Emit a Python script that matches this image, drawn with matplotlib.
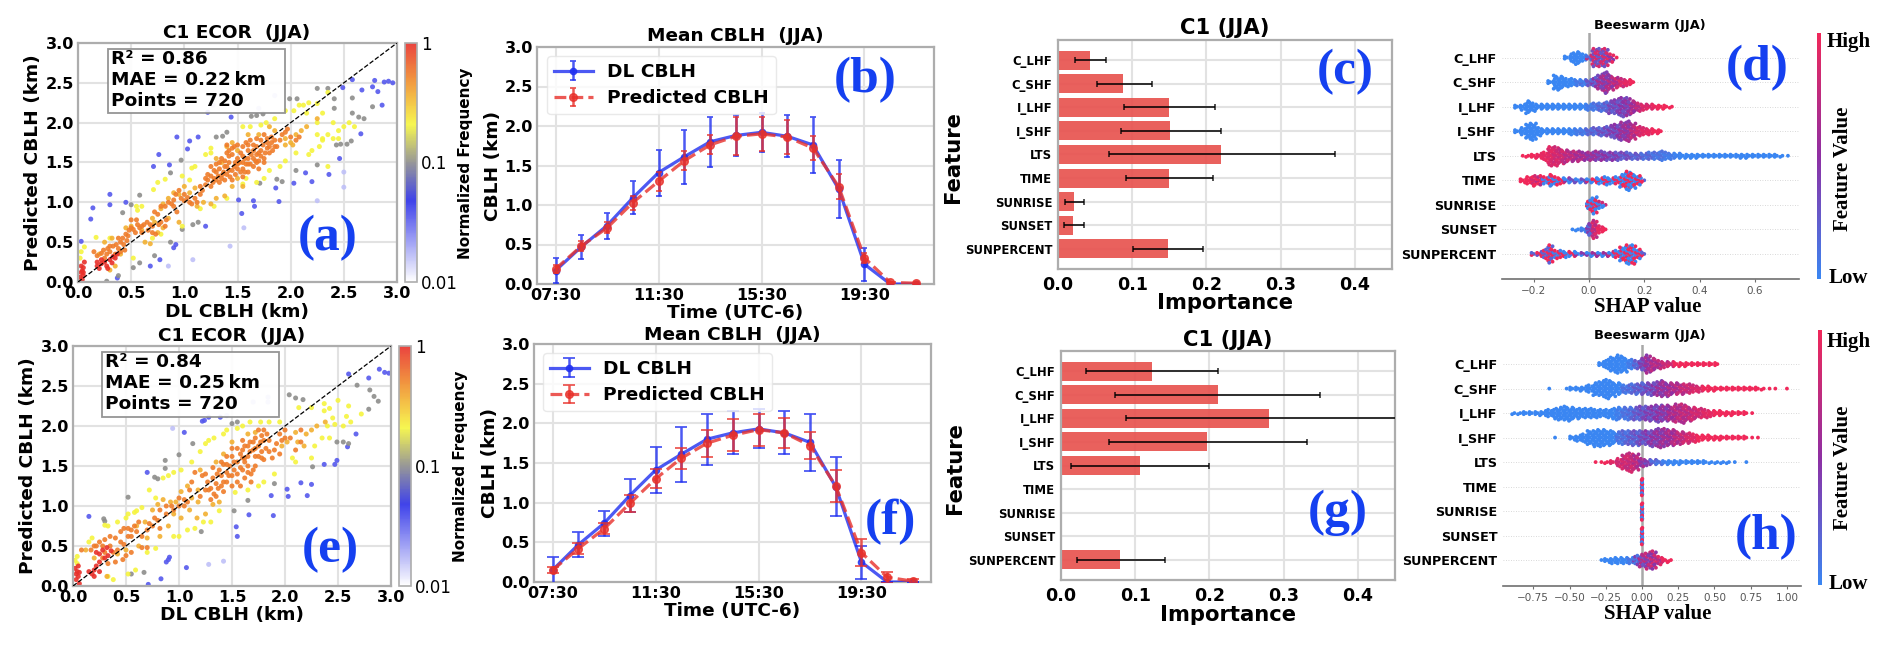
# cblh_panels.py
# Eight panel CBLH figure: scatter, diurnal means, feature importance, SHAP beeswarm

import numpy as np
import matplotlib
matplotlib.use("Agg")
import matplotlib.pyplot as plt
from matplotlib import cm, colors, patches, transforms

W, H = 1892, 646

features = ['C_LHF', 'C_SHF', 'I_LHF', 'I_SHF', 'LTS', 'TIME', 'SUNRISE', 'SUNSET', 'SUNPERCENT']
hours = ['07:30', '11:30', '15:30', '19:30']

# scatter (a), grouped by normalized frequency
a_faint = [(1.43, .45), (1.56, .68), (1.08, .28), (.85, .20), (2.25, 1.02), (2.5, 1.19), (1.85, 2.34), (1.27, 2.22), (1.7, 2.18), (2.5, 1.38)]
a_blue = [(.12, .79), (.14, .93), (.30, .97), (.30, 1.10), (.45, 1.0), (.71, 1.45), (.76, 1.60), (.86, 1.47), (.93, 1.82), (1.03, 1.67),
          (1.05, 1.77), (1.13, 1.82), (1.44, 2.07), (1.22, 2.13), (1.2, .70), (1.51, 1.03), (1.65, 1.02), (1.66, .95), (1.54, .86), (1.89, 1.01),
          (1.86, 1.18), (2.03, 1.24), (2.2, 1.26), (2.14, 1.37), (2.36, 1.35), (2.46, 1.55), (2.66, 1.86), (2.58, 2.54), (2.49, 2.44),
          (2.67, 2.41), (2.79, 2.53), (2.77, 2.45), (2.82, 2.39), (2.86, 2.22), (2.88, 2.51), (2.92, 2.52), (2.96, 2.50), (.77, .28), (.68, .20),
          (.90, .43), (.92, .47), (.03, .51), (.37, .05)]
a_grey = [(.50, .97), (.58, 1.09), (.42, .87), (.87, 1.37), (.97, 1.53), (1.30, 1.82), (1.36, 1.83), (1.40, 1.88), (1.63, 2.08), (1.68, 2.09),
          (1.74, 2.11), (1.99, 2.30), (2.06, 2.30), (2.25, 2.43), (2.35, 2.43), (2.41, 2.30), (2.58, 2.31), (2.77, 2.20), (2.41, 2.18), (2.58, 2.12),
          (2.64, 2.07), (2.69, 2.05), (2.43, 1.72), (2.47, 1.73), (2.53, 1.73), (2.57, 1.77), (2.25, 1.47), (2.05, 1.40), (1.92, 1.26), (1.87, 1.29),
          (1.71, 1.24), (.87, .50), (.72, .33), (.52, .18), (.58, .24), (.38, .08), (.27, .01), (.98, .66), (1.08, .72), (1.13, .75)]
a_yellow = [(.06, .44), (.03, .38), (.02, .30), (.17, .56), (.30, .55), (.55, .95), (.60, .95), (.56, .90), (.71, 1.16), (.75, 1.25),
            (.82, 1.29), (.98, 1.33), (1.05, 1.28), (1.07, 1.43), (1.10, 1.45), (1.2, 1.6), (1.25, 1.62), (1.25, 1.68), (1.55, 1.95), (1.62, 1.95),
            (1.72, 1.97), (1.77, 2.0), (1.85, 2.05), (1.95, 2.15), (2.03, 2.15), (2.08, 2.22), (2.12, 2.22), (2.17, 2.25), (2.25, 2.24), (2.35, 2.38),
            (2.3, 2.12), (2.15, 2.12), (2.25, 2.0), (2.4, 2.0), (.52, .30), (.70, .55), (.78, .60), (.98, .70), (1.15, .92), (1.28, .95),
            (1.4, 1.05), (1.55, 1.23), (1.58, 1.3), (1.68, 1.25), (1.75, 1.3), (1.8, 1.4), (1.9, 1.45), (1.95, 1.52), (2.05, 1.62), (2.17, 1.6),
            (2.2, 1.65), (2.27, 1.7), (2.3, 1.8), (2.35, 1.85), (2.45, 1.8), (2.5, 1.95), (2.55, 2.0), (2.6, 1.95), (2.35, 1.45), (2.45, 1.9),
            (2.25, 1.85), (2.3, 1.78), (2.4, 1.8)]
a_gold = [(.2, .35), (.25, .5), (.32, .55), (.45, .68), (.5, .7), (.6, .65), (.63, .5), (.68, .48), (.72, .75), (.78, .92),
          (.8, .98), (.85, 1.05), (.9, 1.12), (.95, 1.1), (1.0, 1.2), (1.05, 1.12), (1.1, 1.18), (1.12, .95), (1.18, 1.0), (1.25, .98),
          (1.3, 1.05), (1.38, 1.08), (1.45, 1.2), (1.5, 1.3), (1.55, 1.2), (1.3, 1.55), (1.35, 1.5), (1.4, 1.7), (1.45, 1.75), (1.5, 1.65),
          (1.6, 1.85), (1.7, 1.85), (1.8, 1.95), (1.85, 1.9), (1.95, 1.8), (2.0, 1.75), (2.05, 1.85), (2.1, 1.9), (2.02, 1.72), (1.95, 1.72),
          (2.15, 1.95), (2.25, 2.05), (.35, .2), (.4, .35), (.3, .15), (.95, .75), (.85, .8), (.75, .62), (.8, .68), (.7, .8)]
a_orange = [(.15, .38), (.18, .33), (.22, .36), (.25, .30), (.28, .42), (.3, .38), (.33, .45), (.36, .47), (.38, .42), (.4, .5),
            (.43, .47), (.46, .52), (.45, .6), (.48, .65), (.5, .68), (.52, .66), (.54, .62), (.56, .72), (.6, .7), (.62, .72),
            (.66, .65), (.7, .7), (.7, .62), (.73, .6), (.76, .72), (.78, .75), (.82, .7), (.83, .78), (.75, .85), (.72, .88),
            (.78, .95), (.85, 1.0), (.88, .98), (.92, 1.1), (.97, 1.05), (1.0, 1.1), (1.03, 1.06), (1.07, .98), (1.1, 1.05), (1.15, 1.1),
            (1.17, 1.15), (1.2, 1.22), (1.22, 1.28), (1.25, 1.2), (1.28, 1.3), (1.3, 1.38), (1.33, 1.42), (1.36, 1.35), (1.38, 1.28), (1.33, 1.25),
            (1.4, 1.45), (1.42, 1.5), (1.45, 1.4), (1.48, 1.35), (1.5, 1.42), (1.52, 1.5), (1.55, 1.42), (1.58, 1.48), (1.6, 1.55), (1.62, 1.48),
            (1.65, 1.55), (1.68, 1.6), (1.7, 1.52), (1.72, 1.65), (1.75, 1.55), (1.78, 1.68), (1.8, 1.62), (1.55, 1.7), (1.58, 1.75), (1.62, 1.78),
            (1.65, 1.72), (1.68, 1.8), (1.72, 1.78), (1.75, 1.85), (1.78, 1.8), (1.82, 1.75), (1.85, 1.78), (1.45, 1.6), (1.42, 1.65), (1.47, 1.7),
            (1.4, 1.72), (1.3, 1.48), (1.35, 1.55), (1.25, 1.45), (1.5, 1.55), (1.55, 1.58), (1.6, 1.65), (1.65, 1.45), (1.7, 1.42), (1.6, 1.38),
            (1.55, 1.32), (1.45, 1.28), (1.38, 1.45), (1.9, 1.78), (1.92, 1.85), (1.87, 1.7),
            (1.25, 1.33), (1.27, 1.25), (1.3, 1.28), (1.32, 1.33), (1.35, 1.3), (1.37, 1.38), (1.4, 1.35), (1.42, 1.4), (1.43, 1.32), (1.47, 1.45),
            (1.5, 1.48), (1.53, 1.38), (1.55, 1.5), (1.57, 1.55), (1.6, 1.48), (1.63, 1.6), (1.65, 1.65), (1.67, 1.52), (1.68, 1.7), (1.7, 1.62),
            (1.72, 1.58), (1.74, 1.72), (1.76, 1.62), (1.78, 1.75), (1.8, 1.7), (1.82, 1.82), (1.83, 1.65), (1.85, 1.7), (1.42, 1.58), (1.45, 1.68),
            (1.4, 1.62), (1.38, 1.52), (1.33, 1.5), (1.28, 1.4), (1.22, 1.35), (1.2, 1.3), (1.15, 1.2), (1.12, 1.0), (1.05, 1.0), (1.0, 1.02),
            (.95, 1.15), (.9, 1.03), (.82, .95), (.9, .95), (.93, .88), (.68, .72), (.65, .75), (.6, .62), (.58, .68), (.55, .78),
            (.5, .78), (.47, .58), (.42, .55), (.38, .55), (.35, .35), (.3, .45), (.27, .35), (.24, .4), (.4, .38), (.44, .4),
            (1.95, 1.88), (2.0, 1.82), (2.05, 1.78), (2.08, 1.82), (1.97, 1.92), (1.5, 1.72), (1.53, 1.62), (1.6, 1.72), (1.75, 1.5), (1.68, 1.5),
            (1.57, 1.38), (1.48, 1.5)]
a_red = [(.03, .2), (.05, .18), (.04, .14), (.05, .08), (.04, .03), (.06, .25), (.03, .12), (.02, .06), (.05, .12), (.18, .2),
         (.2, .17), (.22, .23), (.25, .25), (.18, .25), (.27, .2), (.3, .28), (.33, .32), (.35, .3), (.37, .35), (.28, .17), (.22, .28), (.32, .24)]

# scatter (e)
e_faint = [(.94, 1.97), (1.70, 2.30), (1.84, 2.36), (1.84, 2.30), (1.42, .31), (1.28, .27), (1.45, 2.13)]
e_blue = [(.15, .87), (.70, 1.42), (1.05, 1.92), (1.22, 2.06), (1.24, 2.07), (1.28, 2.11), (1.39, 2.11), (.9, .33), (.91, .36), (.88, .30),
          (.71, .02), (.83, .09), (1.07, .23), (1.54, .74), (1.55, .62), (1.66, .89), (1.89, .88), (1.87, 1.13), (2.02, 1.21), (2.03, 1.12),
          (2.15, 1.29), (2.25, 1.27), (2.21, 1.13), (2.37, 1.52), (2.47, 1.52), (2.49, 1.57), (2.59, 1.74), (2.67, 1.90), (2.6, 2.65), (2.79, 2.60),
          (2.89, 2.71), (2.94, 2.67), (2.98, 2.66)]
e_grey = [(.52, 1.11), (.29, .84), (.30, .81), (.77, 1.36), (.80, 1.34), (.87, 1.47), (.87, 1.57), (1.0, 1.64), (1.13, 1.78), (.67, .17),
          (1.21, .68), (1.65, 1.07), (1.52, .94), (1.5, 2.03), (1.55, 2.05), (2.04, 2.39), (2.10, 2.35), (2.17, 2.33), (2.68, 2.51), (2.80, 2.45),
          (2.84, 2.37), (2.88, 2.31), (2.79, 2.21), (2.49, 1.80), (2.55, 1.80), (2.60, 1.78), (2.26, 1.49), (1.9, 1.28), (.55, .15)]
e_yellow = [(.04, .37), (.02, .32), (.04, .28), (.15, .55), (.18, .6), (.3, .76), (.33, .75), (.42, .8), (.5, .85), (.52, .9),
            (.58, .92), (.6, .94), (.65, .98), (.72, 1.2), (.78, 1.1), (.85, 1.35), (.9, 1.38), (.95, 1.42), (1.02, 1.45), (1.12, 1.55),
            (1.2, 1.68), (1.25, 1.78), (1.28, 1.82), (1.33, 1.85), (1.42, 1.9), (1.45, 1.95), (1.55, 1.97), (1.6, 2.0), (1.67, 2.05), (1.77, 2.05),
            (1.85, 2.05), (1.95, 2.05), (2.13, 2.23), (2.25, 2.23), (2.37, 2.28), (2.42, 2.22), (2.5, 2.32), (2.6, 2.25), (2.37, 2.19), (2.45, 2.1),
            (2.58, 2.12), (2.62, 2.05), (2.72, 2.15), (.38, .08), (.33, .12), (.52, .15), (.59, .2), (.7, .42), (.78, .47), (.95, .62),
            (1.0, .62), (1.08, .7), (1.15, .72), (1.23, .8), (1.3, .8), (1.38, .94), (1.53, 1.17), (1.65, 1.2), (1.75, 1.25), (1.8, 1.3),
            (1.9, 1.4), (2.07, 1.6), (2.1, 1.55), (2.25, 1.6), (2.28, 1.75), (2.35, 1.85), (2.42, 1.85), (2.47, 2.02), (2.55, 2.0), (2.4, 2.0)]
e_gold = [(.12, .45), (.2, .35), (.32, .12), (.42, .4), (.5, .45), (.6, .75), (.68, .8), (.75, .95), (.8, 1.02), (.85, 1.08),
          (.92, 1.05), (.97, 1.05), (1.02, 1.18), (1.08, 1.25), (1.12, 1.1), (1.18, 1.2), (1.2, 1.45), (1.18, 1.05), (1.17, .85), (1.25, .9),
          (1.32, 1.02), (1.38, 1.05), (1.35, 1.55), (1.42, 1.65), (1.5, 1.8), (1.65, 1.9), (1.72, 1.92), (1.97, 1.75), (2.02, 1.8), (2.12, 1.8),
          (2.18, 1.75), (2.2, 1.9), (2.3, 2.0), (2.38, 2.05), (2.1, 1.92), (2.25, 1.95), (.62, .5), (.7, .6), (.82, .62), (.9, .75),
          (1.02, .85), (.95, .9), (1.1, .95)]
e_orange = [(.08, .45), (.17, .45), (.25, .55), (.3, .58), (.35, .62), (.4, .6), (.45, .68), (.48, .72), (.52, .62), (.55, .7),
            (.6, .68), (.65, .62), (.7, .7), (.72, .78), (.77, .85), (.82, .72), (.65, .48), (.7, .48), (.5, .38), (.55, .42),
            (.4, .3), (.47, .33), (.42, .45), (.88, .9), (.93, 1.0), (1.0, 1.0), (1.05, 1.08), (1.12, 1.3), (1.15, 1.42), (1.22, 1.38),
            (1.27, 1.3), (1.3, 1.22), (1.32, 1.35), (1.33, 1.15), (1.36, 1.4), (1.38, 1.45), (1.4, 1.25), (1.42, 1.52), (1.45, 1.3), (1.48, 1.5),
            (1.5, 1.62), (1.5, 1.38), (1.55, 1.55), (1.58, 1.65), (1.6, 1.45), (1.62, 1.75), (1.62, 1.35), (1.65, 1.5), (1.67, 1.68), (1.68, 1.4),
            (1.7, 1.8), (1.72, 1.62), (1.75, 1.75), (1.78, 1.88), (1.78, 1.68), (1.8, 1.95), (1.82, 1.72), (1.85, 1.82), (1.88, 1.6), (1.9, 1.7),
            (1.95, 1.9), (2.0, 1.95), (2.05, 1.85), (1.72, 1.5), (1.68, 1.3), (1.6, 1.6), (1.55, 1.72), (1.52, 1.45), (1.45, 1.42), (1.35, 1.12),
            (1.42, 1.18), (1.58, 1.25),
            (1.25, 1.4), (1.28, 1.2), (1.3, 1.08), (1.35, 1.28), (1.37, 1.22), (1.4, 1.38), (1.42, 1.3), (1.45, 1.52), (1.47, 1.38), (1.5, 1.25),
            (1.52, 1.55), (1.55, 1.4), (1.55, 1.3), (1.58, 1.48), (1.6, 1.7), (1.62, 1.55), (1.65, 1.62), (1.65, 1.42), (1.67, 1.8), (1.7, 1.7),
            (1.7, 1.45), (1.72, 1.85), (1.75, 1.62), (1.77, 1.8), (1.8, 1.82), (1.8, 1.58), (1.83, 1.9), (1.85, 1.68), (1.75, 1.95), (1.72, 1.72),
            (1.65, 1.75), (1.6, 1.82), (1.5, 1.72), (1.45, 1.62), (1.4, 1.55), (1.32, 1.48), (1.25, 1.2), (1.2, 1.12), (1.1, 1.2), (1.05, 1.0),
            (1.08, 1.05), (1.0, 1.1), (.95, .95), (.88, 1.0), (.82, .95), (.8, .82), (.75, .75), (.62, .8), (.58, .75), (.55, .62),
            (.52, .72), (.48, .52), (.45, .55), (.38, .42), (.35, .5), (.28, .5), (.3, .42), (.33, .28), (.28, .35), (.22, .5),
            (.2, .5), (2.0, 1.85), (2.1, 1.7), (1.97, 1.82), (2.15, 1.8), (2.15, 1.95), (1.92, 1.78), (1.95, 1.65), (1.78, 1.6), (1.62, 1.6)]
e_red = [(.02, .22), (.04, .18), (.05, .12), (.03, .08), (.06, .03), (.05, .25), (.06, .17), (.03, .15), (.15, .18), (.18, .15),
         (.2, .2), (.22, .25), (.2, .12), (.25, .3), (.25, .4), (.22, .42), (.28, .45), (.32, .48), (.33, .38), (.25, .18), (.3, .35), (.36, .44)]

freq_faint, freq_blue, freq_grey, freq_yellow, freq_gold, freq_orange, freq_red = .016, .035, .1, .21, .36, .55, 1.0

# diurnal means, hourly from 07:30 to 21:30
b_dl = [.17, .47, .74, 1.09, 1.41, 1.61, 1.80, 1.88, 1.92, 1.87, 1.76, 1.20, .25, 0, 0]
b_dl_err = [.16, .15, .165, .21, .29, .34, .32, .26, .245, .265, .355, .365, .21, 0, 0]
b_pred = [.19, .48, .71, 1.03, 1.30, 1.56, 1.76, 1.87, 1.90, 1.86, 1.72, 1.23, .33, .02, .01]
b_pred_err = [.05, .06, .07, .09, .12, .12, .12, .24, .22, .215, .15, .16, .06, .01, .01]

f_dl = [.15, .47, .74, 1.09, 1.41, 1.61, 1.80, 1.88, 1.93, 1.88, 1.76, 1.20, .25, 0, 0]
f_dl_err = [.17, .155, .16, .21, .29, .345, .32, .27, .245, .27, .355, .37, .21, 0, 0]
f_pred = [.15, .42, .67, .99, 1.30, 1.56, 1.75, 1.85, 1.92, 1.88, 1.72, 1.21, .37, .06, .01]
f_pred_err = [.04, .07, .07, .11, .12, .13, .17, .20, .20, .19, .17, .20, .17, .07, .03]

# feature importance
c_imp = [.043, .088, .150, .151, .220, .150, .022, .020, .148]
c_left = [.0225, .052, .089, .085, .069, .091, .010, .008, .101]
c_right = [.064, .126, .212, .219, .373, .209, .035, .035, .195]
g_imp = [.123, .211, .280, .197, .106, 0, 0, 0, .080]
g_left = [.034, .073, .087, .064, .014, 0, 0, 0, .022]
g_right = [.212, .349, .473, .331, .199, 0, 0, 0, .140]

# beeswarm histograms: first bin, bin width, dots per bin, feature value per bin, value mix
d_start = [-.08, -.14, -.26, -.26, -.24, -.24, 0, -.06, -.20]
d_step = [.02] * 9
d_counts = [
    [3, 9, 12, 7, 5, 17, 17, 17, 8, 1],
    [3, 14, 12, 8, 7, 6, 6, 6, 9, 15, 20, 14, 10, 8, 6, 3],
    [3, 6, 12, 8, 5, 5, 5, 5, 5, 5, 5, 5, 5, 6, 7, 8, 9, 12, 15, 18, 17, 12, 8, 6, 5, 4, 4, 3, 2],
    [3, 7, 15, 16, 8, 5, 5, 5, 5, 5, 6, 6, 6, 6, 7, 8, 9, 11, 14, 17, 19, 15, 9, 7, 6, 4, 3],
    [1, 2, 4, 5, 8, 18, 18, 14, 12, 10, 10, 8, 8, 9, 9, 8, 8, 8, 7, 7, 6, 6, 6, 7, 7, 9, 7, 6, 5, 4, 4, 4, 3, 3, 3, 3, 3, 3, 3, 4, 4, 3, 3, 3, 3, 3, 3, 2, 1],
    [4, 7, 10, 9, 7, 11, 8, 6, 5, 4, 4, 4, 4, 5, 6, 8, 6, 7, 12, 18, 14, 9, 2],
    [9, 16, 7, 2],
    [1, 2, 4, 11, 17, 7, 3],
    [3, 5, 9, 17, 8, 7, 6, 5, 3, 3, 4, 4, 4, 4, 5, 7, 13, 18, 18, 9, 3],
]
d_value = [
    [0, 0, 0, 0, .45, .6, .55, .6, .7, .9],
    [0, 0, 0, 0, 0, .05, .1, .2, .35, .5, .55, .6, .75, .85, .95, 1],
    [0, 0, 0, 0, 0, 0, 0, 0, 0, 0, 0, 0, 0, .05, .1, .15, .2, .3, .35, .4, .45, .6, .75, .85, .9, .95, 1, 1, 1],
    [0, 0, 0, 0, 0, 0, 0, 0, 0, 0, .02, .05, .1, .15, .2, .25, .3, .35, .4, .5, .55, .7, .85, .9, .95, 1, 1],
    [1, 1, 1, .95, .95, .9, .85, .8, .75, .7, .65, .6, .55, .5, .45, .42, .38, .35, .3, .28, .25, .2, .18, .15, .12, .1, .08, .05, .03,
     0, 0, 0, 0, 0, 0, 0, 0, 0, 0, 0, 0, 0, 0, 0, 0, 0, 0, 0, 0],
    [1, 1, .95, .9, .6, .6, .6, .5, .2, .1, .1, .1, .3, .5, .5, .5, .4, .4, .55, .55, .55, .6, .7],
    [.6, .4, .3, .3],
    [0, 0, .05, .3, .8, .95, 1],
    [.7, .75, .7, .7, .6, .6, .5, .4, .2, .15, .15, .2, .2, .2, .3, .5, .55, .55, .55, .6, .7],
]
d_mix = [.3, .15, .1, .1, .1, .6, .6, .15, .6]

h_start = [-.28, -.64, -.88, -.60, -.32, 0, 0, 0, -.28]
h_step = [.04, .04, .04, .04, .04, .006, .006, .006, .04]
h_counts = [
    [5, 9, 14, 17, 14, 9, 8, 11, 17, 12, 8, 6, 5, 4, 4, 3, 3, 3, 3, 3, 3],
    [1, 0, 0, 1, 3, 4, 5, 7, 12, 15, 18, 14, 11, 8, 9, 10, 11, 11, 12, 15, 14, 12, 11, 10, 9, 7, 6, 5, 4, 3, 3, 3, 3, 3, 3, 3, 3, 2, 1, 1, 0, 1],
    [2, 2, 3, 3, 4, 5, 7, 10, 12, 14, 12, 10, 9, 9, 8, 7, 8, 10, 12, 11, 12, 12, 13, 14, 15, 16, 15, 14, 17, 18, 14, 12, 9, 8, 6, 5, 4, 4, 3, 3, 3, 1],
    [1, 0, 0, 4, 6, 8, 13, 16, 16, 14, 13, 11, 13, 14, 14, 13, 14, 16, 18, 17, 15, 13, 12, 10, 8, 6, 5, 4, 4, 3, 3, 3, 3, 3, 1, 1],
    [1, 1, 2, 3, 8, 15, 18, 15, 8, 6, 5, 4, 4, 4, 4, 3, 3, 3, 3, 3, 2, 2, 2, 2, 1, 0, 1],
    [16],
    [16],
    [16],
    [1, 4, 6, 6, 6, 6, 9, 12, 16, 17, 8, 4, 2],
]
h_value = [
    [0, 0, 0, 0, 0, .05, .2, .35, .55, .65, .7, .75, .85, 1, 1, 1, 1, 1, 1, 1, 1],
    [0, 0, 0, 0, 0, 0, 0, 0, 0, 0, 0, 0, 0, .1, .15, .2, .25, .3, .4, .5, .55, .6, .7, .75, .8, .85, .9, 1, 1, 1, 1, 1, 1, 1, 1, 1, 1, 1, 1, 1, 1, 1],
    [0, 0, 0, 0, 0, 0, 0, 0, 0, 0, 0, 0, 0, 0, 0, 0, 0, 0, .05, .1, .15, .22, .3, .35, .4, .45, .5, .6, .7, .72, .75, .8, .85, .9, .95, 1, 1, 1, 1, 1, 1, 1],
    [0, 0, 0, 0, 0, 0, 0, 0, 0, 0, 0, .1, .15, .2, .25, .3, .38, .45, .5, .55, .62, .7, .78, .85, .92, 1, 1, 1, 1, 1, 1, 1, 1, 1, 1, 1],
    [1, 1, 1, .9, .85, .8, .8, .7, .55, .35, .2, .1, .05, 0, 0, 0, 0, 0, 0, 0, 0, 0, 0, 0, 0, 0, 0],
    [.6],
    [.4],
    [.6],
    [0, 0, 0, 0, 0, .05, .25, .5, .6, .65, .8, .95, 1],
]
h_mix = [.1, .1, .1, .1, .1, .9, .9, .9, .2]

BLUE = '#1f2ff0'
RED = '#e8302a'
LABEL_BLUE = '#1540f0'
SPINE = '#adadad'
GRID = '#e2e2e2'
SWARM_OFFSETS = [0, -2, 2, -1, 1]

plt.rcParams['font.family'] = 'DejaVu Sans'
fig = plt.figure(figsize=(W / 100, H / 100), dpi=100)
# pixel coordinates of the picture, y going down
PIX = transforms.Affine2D().scale(1 / W, -1 / H).translate(0, 1) + fig.transFigure

freq_cmap = colors.LinearSegmentedColormap.from_list('freq', [
    (0.0, '#ffffff'), (0.34, '#2a2ee8'), (0.5, '#8c8c8c'), (0.66, '#f6f63e'), (0.85, '#f0882a'), (1.0, '#e8302a')])
freq_norm = colors.LogNorm(vmin=0.01, vmax=1)
shap_cmap = colors.LinearSegmentedColormap.from_list('shap', ['#3a86f2', '#8f2fa3', '#f0285a'])


def axes_px(x0, y0, x1, y1):
    return fig.add_axes([x0 / W, 1 - y1 / H, (x1 - x0) / W, (y1 - y0) / H])


def style_box(ax, tick_size):
    for s in ax.spines.values():
        s.set_color(SPINE)
        s.set_linewidth(1.6)
    ax.grid(True, color=GRID, lw=1.5)
    ax.set_axisbelow(True)
    ax.tick_params(length=0, labelsize=tick_size, pad=3)
    for t in ax.get_xticklabels() + ax.get_yticklabels():
        t.set_fontweight('bold')


def labels(ax, title, xlabel, ylabel, title_xy, x_xy, y_xy, size=13.3):
    ax.set_title(title, x=title_xy[0], y=title_xy[1], transform=PIX, fontsize=size, fontweight='bold', ha='center', va='center')
    ax.set_xlabel(xlabel, fontsize=size, fontweight='bold', va='center')
    ax.xaxis.set_label_coords(x_xy[0], x_xy[1], transform=PIX)
    ax.set_ylabel(ylabel, fontsize=size, fontweight='bold', va='center')
    ax.yaxis.set_label_coords(y_xy[0], y_xy[1], transform=PIX)


def panel_letter(text, x, y):
    fig.text(x, y, text, transform=PIX, family='Liberation Serif', fontweight='bold', fontsize=37,
             color=LABEL_BLUE, ha='center', va='center')


def scatter_panel(rect, cbar_x, groups, stats, box, text_x, line_ys, title_xy, x_xy, y_xy, cb_label_xy):
    ax = axes_px(*rect)
    for freq, pts in groups:
        xs, ys = zip(*pts)
        ax.scatter(xs, ys, c=[freq] * len(xs), cmap=freq_cmap, norm=freq_norm, s=13, linewidths=0, alpha=0.9, zorder=2)
    ax.plot([0, 3], [0, 3], color='black', ls='--', lw=0.9, zorder=3)
    ax.set_xlim(0, 3)
    ax.set_ylim(0, 3)
    ticks = np.arange(0, 3.1, 0.5)
    ax.set_xticks(ticks)
    ax.set_yticks(ticks)
    style_box(ax, 11.6)
    labels(ax, 'C1 ECOR  (JJA)', 'DL CBLH (km)', 'Predicted CBLH (km)', title_xy, x_xy, y_xy)

    fig.add_artist(patches.Rectangle((box[0], box[1]), box[2] - box[0], box[3] - box[1], transform=PIX,
                                     fc='white', ec='#8a8a8a', lw=1.3, alpha=0.9))
    for line, y in zip(stats, line_ys):
        fig.text(text_x, y, line, transform=PIX, fontsize=13.3, fontweight='bold', ha='left', va='center')

    cax = axes_px(cbar_x, rect[1], cbar_x + 12, rect[3])
    cb = fig.colorbar(cm.ScalarMappable(norm=freq_norm, cmap=freq_cmap), cax=cax, alpha=0.9)
    cb.set_ticks([0.01, 0.1, 1], labels=['0.01', '0.1', '1'])
    cb.minorticks_off()
    cb.ax.tick_params(length=0, labelsize=12, pad=3)
    cb.outline.set_edgecolor(SPINE)
    cb.outline.set_linewidth(1.2)
    cb.set_label('Normalized Frequency', fontsize=11, fontweight='bold', va='center')
    cb.ax.yaxis.set_label_coords(cb_label_xy[0], cb_label_xy[1], transform=PIX)


def diurnal_panel(rect, dl, dl_err, pred, pred_err, capsize, legend_xy, title_xy, x_xy, y_xy):
    ax = axes_px(*rect)
    x = np.arange(len(dl))
    ax.errorbar(x, dl, yerr=dl_err, color=BLUE, lw=2.3, marker='o', ms=4.5, capsize=capsize, capthick=1.3,
                elinewidth=1.8, alpha=0.8, label='DL CBLH', zorder=3)
    ax.errorbar(x, pred, yerr=pred_err, color=RED, lw=2.3, ls='--', marker='o', ms=5.5, capsize=capsize, capthick=1.3,
                elinewidth=1.8, alpha=0.8, label='Predicted CBLH', zorder=4)
    ax.set_xlim(-0.72, 14.7)
    ax.set_ylim(0, 3)
    ax.set_xticks(x[::4])
    ax.set_xticklabels(hours)
    ax.set_yticks(np.arange(0, 3.1, 0.5))
    style_box(ax, 11.5)
    labels(ax, 'Mean CBLH  (JJA)', 'Time (UTC-6)', 'CBLH (km)', title_xy, x_xy, y_xy)
    ax.legend(loc='upper left', bbox_to_anchor=legend_xy, bbox_transform=PIX, borderaxespad=0, borderpad=0.38,
              handlelength=2.1, handletextpad=0.78, labelspacing=0.45,
              prop={'size': 13.3, 'weight': 'bold'}, framealpha=0.8, edgecolor='#e4e4e4')


def importance_panel(rect, imp, left, right, title_xy, x_xy, y_xy):
    ax = axes_px(*rect)
    y = np.arange(len(features))
    ax.barh(y, imp, height=0.8, color='#e8534f', alpha=0.92, zorder=2)
    for i in y:
        if right[i] > 0:
            ax.errorbar((left[i] + right[i]) / 2, i, xerr=(right[i] - left[i]) / 2, color='black', lw=1.4,
                        capsize=2.5, capthick=1.2, alpha=0.8, zorder=3)
    ax.set_xlim(0, 0.45)
    ax.set_ylim(8.85, -0.85)
    ax.set_xticks([0, .1, .2, .3, .4])
    ax.set_xticklabels(['0.0', '0.1', '0.2', '0.3', '0.4'])
    ax.set_yticks(y)
    ax.set_yticklabels(features)
    style_box(ax, 12.6)
    ax.tick_params(axis='y', labelsize=8.4, pad=4)
    ax.spines['bottom'].set_zorder(5)
    ax.tick_params(axis='x', pad=5)
    labels(ax, 'C1 (JJA)', 'Importance', 'Feature', title_xy, x_xy, y_xy, size=15.2)


def beeswarm_panel(rect, start, step, counts, value, mix, xticks, xfmt, ylim, title_xy, x_xy, cbar_rect, high_y, low_y, fv_y):
    ax = axes_px(*rect[:4])
    dy = 1.1 / (rect[3] - rect[1]) * (ylim[0] - ylim[1])
    for row in range(len(features)):
        xs, ys, vals = [], [], []
        for i, (n, v) in enumerate(zip(counts[row], value[row])):
            c = start[row] + i * step[row]
            for j in range(n):
                level = (j + 1) // 2
                sign = 1 if (level // 2 + i + j % 2) % 2 else -1
                xs.append(c + SWARM_OFFSETS[level % 5] * step[row] / 5)
                ys.append(row + (level if j % 2 else -level) * dy)
                vals.append(np.clip(v + 4 * v * (1 - v) * mix[row] * sign, 0, 1))
        ax.axhline(row, color='#cccccc', lw=0.6, ls=(0, (1, 2)), zorder=0)
        ax.scatter(xs, ys, c=vals, cmap=shap_cmap, vmin=0, vmax=1, s=7.5, linewidths=0, zorder=3)
    ax.axvline(0, color='#a8a8a8', lw=1.8, zorder=1)
    ax.set_xlim(rect[4], rect[5])
    ax.set_ylim(*ylim)
    for s in ['top', 'left', 'right']:
        ax.spines[s].set_visible(False)
    ax.spines['bottom'].set_color('#707070')
    ax.spines['bottom'].set_linewidth(1.2)
    ax.set_xticks(xticks)
    ax.set_xticklabels([xfmt.format(t).replace('-', '\u2212') for t in xticks])
    ax.set_yticks(range(len(features)))
    ax.set_yticklabels(features, fontsize=9.2, fontweight='bold')
    ax.tick_params(axis='y', length=0, pad=4)
    ax.tick_params(axis='x', length=2, labelsize=7.5, labelcolor='#555555', color='#707070', pad=3)
    ax.set_title('Beeswarm (JJA)', x=title_xy[0], y=title_xy[1], transform=PIX, fontsize=9.4, fontweight='bold', ha='center', va='center')
    ax.set_xlabel('SHAP value', family='Liberation Serif', fontsize=15, fontweight='bold', va='center')
    ax.xaxis.set_label_coords(x_xy[0], x_xy[1], transform=PIX)

    cax = axes_px(*cbar_rect)
    cb = fig.colorbar(cm.ScalarMappable(cmap=shap_cmap), cax=cax)
    cb.set_ticks([])
    cb.outline.set_visible(False)
    serif = dict(transform=PIX, family='Liberation Serif', fontweight='bold', fontsize=15, va='center')
    fig.text(1827, high_y, 'High', ha='left', **serif)
    fig.text(1829, low_y, 'Low', ha='left', **serif)
    fig.text(1843, fv_y, 'Feature Value', ha='center', rotation=90, **serif)


scatter_panel((78, 43, 397, 282), 405,
              [(freq_faint, a_faint), (freq_blue, a_blue), (freq_grey, a_grey), (freq_yellow, a_yellow),
               (freq_gold, a_gold), (freq_orange, a_orange), (freq_red, a_red)],
              ['R\u00b2 = 0.86', 'MAE = 0.22\u2009km', 'Points = 720'], (108, 49, 285, 113), 110.5, (59, 80, 101),
              (237, 33), (237, 312), (33, 163), (465, 163))
scatter_panel((73, 346, 391, 586), 399,
              [(freq_faint, e_faint), (freq_blue, e_blue), (freq_grey, e_grey), (freq_yellow, e_yellow),
               (freq_gold, e_gold), (freq_orange, e_orange), (freq_red, e_red)],
              ['R\u00b2 = 0.84', 'MAE = 0.25\u2009km', 'Points = 720'], (102, 352, 279, 417), 105, (362, 383, 404),
              (232, 336), (232, 615), (28, 466), (460, 466))

diurnal_panel((537, 47, 934, 284), b_dl, b_dl_err, b_pred, b_pred_err, 2, (547, 56), (735, 36), (735, 313), (493, 166))
diurnal_panel((534, 344, 931, 582), f_dl, f_dl_err, f_pred, f_pred_err, 4, (543, 353), (732, 335), (732, 611), (490, 463))

importance_panel((1058, 40, 1392, 269), c_imp, c_left, c_right, (1225, 28), (1225, 303), (953, 157))
importance_panel((1061, 351, 1395, 580), g_imp, g_left, g_right, (1228, 340), (1228, 615), (955, 468))

beeswarm_panel((1502, 33, 1799, 279, -0.315, 0.76), d_start, d_step, d_counts, d_value, d_mix,
               [-.2, 0, .2, .4, .6], '{:.1f}', (9.02, -1.0), (1650, 25), (1648, 307), (1817, 33, 1821, 279), 42, 278, 169)
beeswarm_panel((1503, 345, 1801, 586, -0.959, 1.097), h_start, h_step, h_counts, h_value, h_mix,
               [-.75, -.5, -.25, 0, .25, .5, .75, 1.0], '{:.2f}', (9.06, -0.78), (1650, 335), (1658, 614), (1818, 330, 1822, 585), 342, 584, 468)

for text, x, y in [('(a)', 328, 238), ('(b)', 865, 80), ('(c)', 1345, 72), ('(d)', 1757, 68),
                   ('(e)', 330, 550), ('(f)', 890, 522), ('(g)', 1338, 513), ('(h)', 1766, 537)]:
    panel_letter(text, x, y)

fig.savefig('out.png', dpi=100)
